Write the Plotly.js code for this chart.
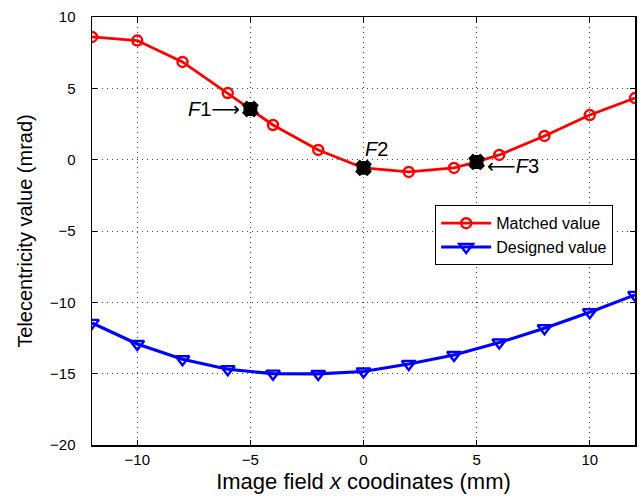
<!DOCTYPE html>
<html><head><meta charset="utf-8">
<script src="https://cdn.plot.ly/plotly-3.0.1.min.js"></script>
<style>html,body{margin:0;padding:0;background:#fff}</style>
</head><body>
<div id="chart" style="width:639px;height:503px"></div>
<script>
const matchedX = [-12, -10, -8, -6, -4, -2, 2, 4, 6, 8, 10, 12];
const lineX = [-12, -10, -8, -6, -5, -4, -2, 0, 2, 4, 5, 6, 8, 10, 12];
const lineY = [8.6, 8.35, 6.85, 4.67, 3.55, 2.43, 0.68, -0.58, -0.86, -0.58, -0.16, 0.33, 1.66, 3.13, 4.32];
const matchedY = [8.6, 8.35, 6.85, 4.67, 2.43, 0.68, -0.86, -0.58, 0.33, 1.66, 3.13, 4.32];
const fieldX = [-5, 0, 5];
const fieldY = [3.55, -0.58, -0.16];
const fieldLabels = ['F1', 'F2', 'F3'];
const designedX = [-12, -10, -8, -6, -4, -2, 0, 2, 4, 6, 8, 10, 12];
const designedY = [-11.44, -12.92, -13.99, -14.69, -15.0, -15.02, -14.85, -14.32, -13.69, -12.82, -11.82, -10.70, -9.48];

const font = 'Liberation Sans, Arial, Helvetica, sans-serif';
const arrowFont = "<span style='font-family:DejaVu Sans;font-size:20px'>";

const traces = [
  {x: lineX, y: lineY, mode: 'lines', line: {color: '#ff0000', width: 2.8}, showlegend: false, hoverinfo: 'skip'},
  {x: matchedX, y: matchedY, mode: 'markers', name: 'Matched value',
   marker: {symbol: 'circle-open', size: 10, color: '#ff0000', line: {width: 2.4, color: '#ff0000'}}, showlegend: false},
  {x: [null], y: [null], mode: 'lines+markers', name: 'Matched value',
   line: {color: '#ff0000', width: 2.8},
   marker: {symbol: 'circle-open', size: 10, color: '#ff0000', line: {width: 2.4}}},
  {x: designedX, y: designedY, mode: 'lines+markers', name: 'Designed value',
   line: {color: '#0000ff', width: 3.2},
   marker: {symbol: 'triangle-down-open', size: 12, color: '#0000ff', line: {width: 2.4}}},
  {x: fieldX, y: fieldY, mode: 'markers', showlegend: false, text: fieldLabels,
   marker: {symbol: 'octagon', size: 15, color: '#000', line: {width: 0}}},
  {x: fieldX, y: fieldY, mode: 'markers', showlegend: false, hoverinfo: 'skip',
   marker: {symbol: 'x', size: 13, color: '#000', line: {width: 1.5, color: '#000'}}}
];

const axisCommon = {
  showline: true, linecolor: '#000', linewidth: 1.5, mirror: 'ticks',
  ticks: 'inside', ticklen: 5, tickwidth: 1, tickcolor: '#000',
  showgrid: true, gridcolor: '#444', griddash: '1px,4px', gridwidth: 1,
  zeroline: false, tickfont: {family: font, size: 15, color: '#000'}
};

const layout = {
  width: 639, height: 503,
  margin: {l: 92, r: 4, t: 17, b: 58},
  paper_bgcolor: '#fff', plot_bgcolor: '#fff',
  font: {family: font, color: '#000'},
  xaxis: Object.assign({}, axisCommon, {
    range: [-12, 12], tickvals: [-10, -5, 0, 5, 10],
    title: {text: 'Image field <i>x</i> coodinates (mm)', font: {family: font, size: 22}, standoff: 7}
  }),
  yaxis: Object.assign({}, axisCommon, {
    range: [-20, 10], tickvals: [-20, -15, -10, -5, 0, 5, 10],
    ticklabelstandoff: 12,
    title: {text: 'Telecentricity value (mrad)', font: {family: font, size: 20}, standoff: 12}
  }),
  legend: {
    x: 0.632, y: 0.56, xanchor: 'left', yanchor: 'top',
    bgcolor: '#fff', bordercolor: '#000', borderwidth: 1,
    font: {family: font, size: 16}, tracegroupgap: 0, itemwidth: 50
  },
  annotations: [
    {x: -5, y: 3.55, xref: 'x', yref: 'y', text: '<i>F</i>1' + arrowFont + '\u27F6</span>', showarrow: false,
     xanchor: 'right', yanchor: 'middle', xshift: -8, yshift: 0, font: {family: font, size: 20}},
    {x: 0, y: -0.58, xref: 'x', yref: 'y', text: '<i>F</i>2', showarrow: false,
     xanchor: 'left', yanchor: 'bottom', xshift: -1, yshift: 6, font: {family: font, size: 20}},
    {x: 5, y: -0.16, xref: 'x', yref: 'y', text: arrowFont + '\u27F5</span><i>F</i>3', showarrow: false,
     xanchor: 'left', yanchor: 'middle', xshift: 8, yshift: -4, font: {family: font, size: 20}}
  ]
};

Plotly.newPlot('chart', traces, layout, {displayModeBar: false, staticPlot: true});
</script>
</body></html>
